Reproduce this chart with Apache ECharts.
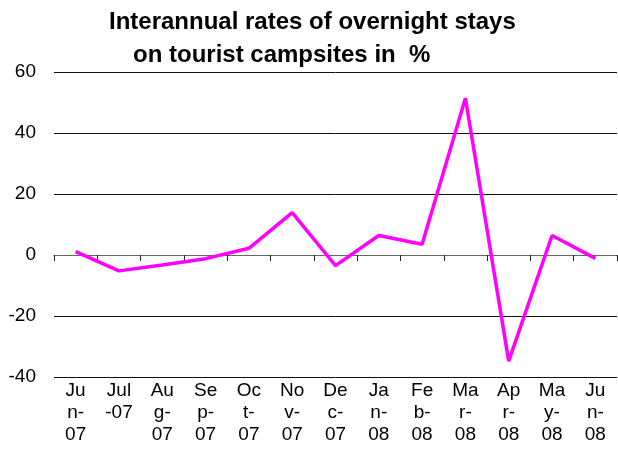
<!DOCTYPE html>
<html>
<head>
<meta charset="utf-8">
<script src="https://cdn.jsdelivr.net/npm/echarts@6/dist/echarts.min.js"></script>
<style>
  html, body { margin: 0; padding: 0; background: #fff; }
  #chart { width: 618px; height: 453px; }
</style>
</head>
<body>
<div id="chart"></div>
<script>
  const categories = ['Jun-07', 'Jul-07', 'Aug-07', 'Sep-07', 'Oct-07', 'Nov-07', 'Dec-07',
    'Jan-08', 'Feb-08', 'Mar-08', 'Apr-08', 'May-08', 'Jun-08']
  // labels wrapped the way the original chart wraps them
  const tickLabels = ['Ju\nn-\n07', 'Jul\n-07', 'Au\ng-\n07', 'Se\np-\n07', 'Oc\nt-\n07', 'No\nv-\n07',
    'De\nc-\n07', 'Ja\nn-\n08', 'Fe\nb-\n08', 'Ma\nr-\n08', 'Ap\nr-\n08', 'Ma\ny-\n08', 'Ju\nn-\n08']
  const rates = [1.1, -5.2, -3.3, -1.2, 2.2, 13.9, -3.5, 6.4, 3.5, 51.4, -34.8, 6.4, -1.1]
  const yTicks = [-40, -20, 0, 20, 40, 60]

  const font = 'Arial, "Liberation Sans", sans-serif'
  const chart = echarts.init(document.getElementById('chart'))

  chart.setOption({
    animation: false,
    title: [{
      text: 'Interannual rates of overnight stays',
      left: 104,
      top: 5,
      textStyle: { fontFamily: font, fontSize: 24, fontWeight: 'bold', color: '#000' }
    }, {
      text: 'on tourist campsites in  %',
      left: 128,
      top: 38,
      textStyle: { fontFamily: font, fontSize: 24, fontWeight: 'bold', color: '#000' }
    }],
    grid: { left: 54, right: 1, top: 72, bottom: 76 },
    xAxis: [{
      // labels along the bottom
      type: 'category',
      data: categories,
      position: 'bottom',
      axisLine: { show: false, onZero: false },
      axisTick: { show: false },
      axisLabel: {
        interval: 0,
        margin: 3,
        fontFamily: font,
        fontSize: 19,
        lineHeight: 22,
        color: '#000',
        formatter: (v, i) => tickLabels[i]
      }
    }, {
      // the zero line with its ticks
      type: 'category',
      data: categories,
      position: 'top',
      axisLine: { onZero: true, lineStyle: { color: '#666', width: 1 } },
      axisTick: { show: true, inside: true, length: 6, interval: 0, lineStyle: { color: '#222' } },
      axisLabel: { show: false }
    }],
    yAxis: {
      type: 'value',
      min: yTicks[0],
      max: yTicks[yTicks.length - 1],
      interval: 20,
      axisLine: { show: false },
      axisTick: { show: false },
      axisLabel: { margin: 18, fontFamily: font, fontSize: 19, color: '#000' },
      splitLine: { lineStyle: { color: '#111', width: 1 } }
    },
    series: [{
      type: 'line',
      xAxisIndex: 0,
      data: rates,
      symbol: 'none',
      lineStyle: { color: '#ff00ff', width: 3.5 }
    }]
  })
</script>
</body>
</html>
